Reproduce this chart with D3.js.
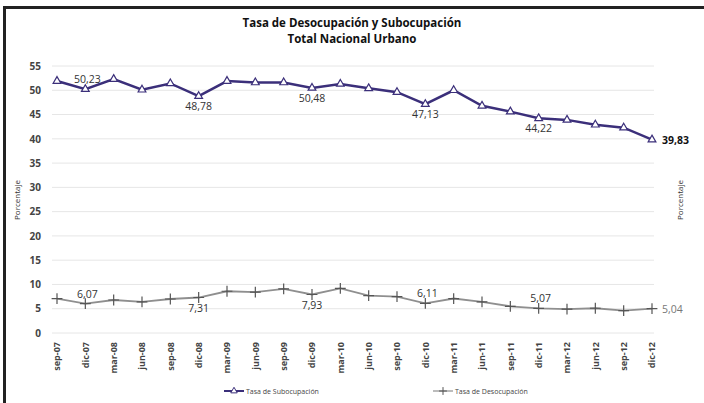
<!DOCTYPE html>
<html>
<head>
<meta charset="utf-8">
<script src="https://cdn.jsdelivr.net/npm/d3@7"></script>
<style>
  body { margin: 0; background: #fff; }
  text { font-family: "Open Sans", "DejaVu Sans", sans-serif; }
</style>
</head>
<body>
<div id="chart-area"></div>
<script>
// Data
var periods = ["sep-07", "dic-07", "mar-08", "jun-08", "sep-08", "dic-08", "mar-09", "jun-09",
	"sep-09", "dic-09", "mar-10", "jun-10", "sep-10", "dic-10", "mar-11", "jun-11",
	"sep-11", "dic-11", "mar-12", "jun-12", "sep-12", "dic-12"];

var subocupacion = [51.9, 50.23, 52.3, 50.1, 51.4, 48.78, 51.9, 51.6, 51.6, 50.48, 51.3,
	50.4, 49.6, 47.13, 50.0, 46.8, 45.6, 44.22, 43.9, 42.9, 42.3, 39.83];

var desocupacion = [7.1, 6.07, 6.8, 6.4, 7.0, 7.31, 8.6, 8.4, 9.1, 7.93, 9.2,
	7.7, 7.5, 6.11, 7.1, 6.4, 5.5, 5.07, 4.9, 5.1, 4.6, 5.04];

var yTicks = [0, 5, 10, 15, 20, 25, 30, 35, 40, 45, 50, 55];

// labelled points: index, position (above/below/right)
var subLabels = [[1, "above"], [5, "below"], [9, "below"], [13, "below"], [17, "below"], [21, "right"]];
var desLabels = [[1, "above"], [5, "below"], [9, "below"], [13, "above"], [17, "above"], [21, "right"]];

var width = 704;
var height = 403;

var svg = d3.select("#chart-area").append("svg")
	.attr("width", width)
	.attr("height", height);

svg.append("rect")
	.attr("width", width)
	.attr("height", height)
	.attr("fill", "#fff");

// frame (left and top only)
svg.append("line")
	.attr("x1", 4.5).attr("x2", 4.5)
	.attr("y1", 6).attr("y2", height)
	.attr("stroke", "#222")
	.attr("stroke-width", 3);
svg.append("line")
	.attr("x1", 3).attr("x2", width)
	.attr("y1", 7.5).attr("y2", 7.5)
	.attr("stroke", "#222")
	.attr("stroke-width", 3);

// Scales
var x = d3.scalePoint()
	.domain(periods)
	.range([57, 652]);

var y = d3.scaleLinear()
	.domain([0, 55])
	.range([333, 66]);

// gridlines
svg.append("g")
	.selectAll("line")
	.data(yTicks)
	.enter().append("line")
	.attr("x1", 52)
	.attr("x2", 654)
	.attr("y1", (d) => y(d))
	.attr("y2", (d) => y(d))
	.attr("stroke", "#e6e6e6")
	.attr("stroke-width", 1);

// y axis
var yAxisCall = d3.axisLeft(y)
	.tickValues(yTicks)
	.tickSize(0)
	.tickPadding(0);

var yAxisGroup = svg.append("g")
	.attr("transform", "translate(41, 0)")
	.call(yAxisCall);
yAxisGroup.select(".domain").remove();
yAxisGroup.selectAll("text")
	.attr("fill", "#444")
	.style("font-size", "10px")
	.style("font-weight", "bold")
	.attr("text-anchor", "end");

// x axis
var xAxisCall = d3.axisBottom(x)
	.tickSize(0)
	.tickPadding(0);

var xAxisGroup = svg.append("g")
	.attr("transform", "translate(0, 333)")
	.call(xAxisCall);
xAxisGroup.select(".domain").remove();
xAxisGroup.selectAll("text")
	.attr("transform", "rotate(-90)")
	.attr("x", -9)
	.attr("y", 0)
	.attr("dy", "0.32em")
	.attr("text-anchor", "end")
	.attr("fill", "#444")
	.style("font-size", "9px")
	.style("font-weight", "bold");

// title
svg.append("text")
	.attr("x", 352)
	.attr("y", 27)
	.attr("text-anchor", "middle")
	.style("font-size", "11.5px")
	.style("font-weight", "bold")
	.attr("fill", "#111")
	.text("Tasa de Desocupación y Subocupación");
svg.append("text")
	.attr("x", 352)
	.attr("y", 43)
	.attr("text-anchor", "middle")
	.style("font-size", "11.5px")
	.style("font-weight", "bold")
	.attr("fill", "#111")
	.text("Total Nacional Urbano");

// axis titles
svg.append("text")
	.attr("transform", "rotate(-90)")
	.attr("x", -200)
	.attr("y", 20)
	.attr("text-anchor", "middle")
	.style("font-size", "8px")
	.attr("fill", "#333")
	.text("Porcentaje");
svg.append("text")
	.attr("transform", "rotate(-90)")
	.attr("x", -200)
	.attr("y", 683)
	.attr("text-anchor", "middle")
	.style("font-size", "8px")
	.attr("fill", "#333")
	.text("Porcentaje");

// lines
var line = d3.line()
	.x((d, i) => x(periods[i]))
	.y((d) => y(d));

var subColor = "#3b2f7a";
var desColor = "#8f8f8f";

svg.append("path")
	.datum(subocupacion)
	.attr("fill", "none")
	.attr("stroke", subColor)
	.attr("stroke-width", 2.5)
	.attr("d", line);

svg.append("path")
	.datum(desocupacion)
	.attr("fill", "none")
	.attr("stroke", desColor)
	.attr("stroke-width", 1.8)
	.attr("d", line);

// triangle markers
var tri = d3.symbol().type(d3.symbolTriangle).size(26);
svg.append("g")
	.selectAll("path")
	.data(subocupacion)
	.enter().append("path")
	.attr("d", tri)
	.attr("transform", (d, i) => "translate(" + x(periods[i]) + "," + y(d) + ")")
	.attr("fill", "#fff")
	.attr("stroke", subColor)
	.attr("stroke-width", 1.2);

// cross markers
var cross = d3.symbol().type(d3.symbolCross2 || d3.symbolPlus).size(40);
svg.append("g")
	.selectAll("path")
	.data(desocupacion)
	.enter().append("path")
	.attr("d", cross)
	.attr("transform", (d, i) => "translate(" + x(periods[i]) + "," + y(d) + ")")
	.attr("fill", "none")
	.attr("stroke", "#555")
	.attr("stroke-width", 1.2);

// data labels
var fmt = (v) => v.toFixed(2).replace(".", ",");

function addLabels(values, labels, colorNormal, colorRight, boldRight) {
	labels.forEach((l) => {
		var i = l[0];
		var pos = l[1];
		var px = x(periods[i]);
		var py = y(values[i]);
		var t = svg.append("text")
			.style("font-size", "10.5px")
			.attr("fill", colorNormal)
			.text(fmt(values[i]));
		if (pos === "above") {
			t.attr("x", px + 2).attr("y", py - 6).attr("text-anchor", "middle");
		} else if (pos === "below") {
			t.attr("x", px).attr("y", py + 14).attr("text-anchor", "middle");
		} else {
			t.attr("x", px + 10).attr("y", py + 4).attr("text-anchor", "start")
				.attr("fill", colorRight)
				.style("font-weight", boldRight ? "bold" : "normal");
		}
	});
}

addLabels(subocupacion, subLabels, "#333", "#111", true);
addLabels(desocupacion, desLabels, "#333", "#777", false);

// legend
var legendData = [
	{ name: "Tasa de Subocupación", color: subColor, x: 224, marker: "tri" },
	{ name: "Tasa de Desocupación", color: desColor, x: 433, marker: "cross" }
];

legendData.forEach((d) => {
	var row = svg.append("g")
		.attr("transform", "translate(" + d.x + ", 391)");
	row.append("line")
		.attr("x1", 0).attr("x2", 20)
		.attr("stroke", d.color)
		.attr("stroke-width", d.marker === "tri" ? 2 : 1.2);
	row.append("path")
		.attr("d", d.marker === "tri" ? d3.symbol().type(d3.symbolTriangle).size(18)() : d3.symbol().type(d3.symbolCross2 || d3.symbolPlus).size(22)())
		.attr("transform", "translate(10, 0)")
		.attr("fill", d.marker === "tri" ? "#fff" : "none")
		.attr("stroke", d.marker === "tri" ? d.color : "#555")
		.attr("stroke-width", 1);
	row.append("text")
		.attr("x", 22)
		.attr("y", 2.5)
		.style("font-size", "7px")
		.attr("fill", "#444")
		.text(d.name);
});
</script>
</body>
</html>
